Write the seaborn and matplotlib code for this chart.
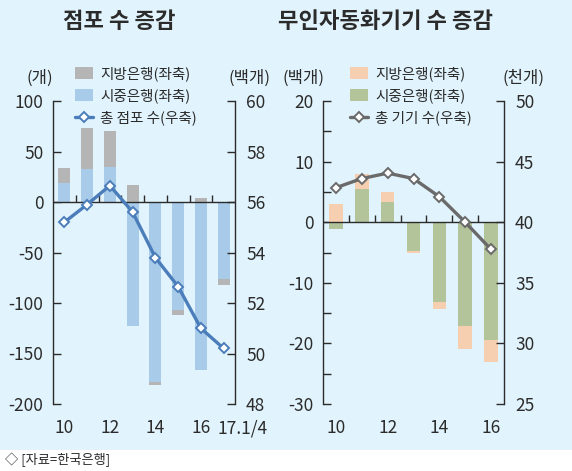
import numpy as np
import matplotlib.pyplot as plt
import seaborn as sns
from matplotlib.patches import Patch, Rectangle
from matplotlib.lines import Line2D
import matplotlib.transforms as mtransforms

# 점포 수 증감: 막대(개, 좌축), 선(백개, 우축)
branch_years = ['10', '11', '12', '13', '14', '15', '16', '17.1/4']
branch_ticks = ['10', '', '12', '', '14', '', '16', '17.1/4']
branch_city = [19, 33, 35, -123, -178, -107, -166, -76]
branch_local = [15, 40, 35, 17, -3, -5, 4, -6]
branch_total = [55.2, 55.9, 56.65, 55.6, 53.8, 52.65, 51.0, 50.2]

# 무인자동화기기 수 증감: 막대(백개, 좌축), 선(천개, 우축)
atm_years = ['10', '11', '12', '13', '14', '15', '16']
atm_ticks = ['10', '', '12', '', '14', '', '16']
atm_city = [-1.1, 5.4, 3.35, -4.8, -13.1, -17.1, -19.5]
atm_local = [3.0, 2.5, 1.7, -0.3, -1.3, -3.8, -3.6]
atm_total = [42.85, 43.6, 44.05, 43.6, 42.1, 40.0, 37.75]

sns.set_theme(style='ticks')
plt.rcParams['font.family'] = ['Noto Sans CJK KR', 'DejaVu Sans']
plt.rcParams['axes.unicode_minus'] = False

BG = '#e1f3fc'
DARK = '#2b2b2b'
W, H = 572, 471

fig = plt.figure(figsize=(W / 100, H / 100), dpi=100)
fig.patch.set_facecolor('white')
fig.patches.append(Rectangle((0, 21 / H), 1, 1 - 21 / H, transform=fig.transFigure,
                             facecolor=BG, edgecolor='none', zorder=-10))


def panel(x0, x1, cats, ticks, city, local, total, c_city, c_local, c_line,
          ylim, yticks, yminor, y2lim, y2ticks, labels, legend_xy):
    ax = fig.add_axes([x0 / W, 1 - 404 / H, (x1 - x0) / W, 303 / H])
    ax.set_facecolor('none')
    city = np.array(city, dtype=float)
    local = np.array(local, dtype=float)
    bottom = np.where(np.sign(city) == np.sign(local), city, 0)
    sns.barplot(x=cats, y=city, color=c_city, width=0.53, errorbar=None,
                linewidth=0, saturation=1, ax=ax)
    sns.barplot(x=cats, y=local, bottom=bottom, color=c_local, width=0.53,
                errorbar=None, linewidth=0, saturation=1, ax=ax)
    ax.set_ylim(*ylim)
    ax.set_xlim(-0.5, len(cats) - 0.5)
    ax.set_yticks(yticks)
    ax.set_yticks(yminor, minor=True)
    ax.set_xticks(range(len(cats)))
    ax.set_xticklabels(ticks)
    ax.axhline(0, color=DARK, lw=1, zorder=3)
    tick_len = (ylim[1] - ylim[0]) * 7 / 303
    ax.vlines(np.arange(len(cats) - 1) + 0.5, 0, tick_len, color=DARK, lw=1, zorder=3)
    ax.set_xlabel('')
    ax.set_ylabel('')

    ax2 = ax.twinx()
    sns.lineplot(x=np.arange(len(cats)), y=total, color=c_line, lw=2.4, marker='D',
                 markersize=5.3, markerfacecolor='white', markeredgecolor=c_line,
                 markeredgewidth=1.4, ax=ax2, zorder=5)
    ax2.set_ylim(*y2lim)
    ax2.set_yticks(y2ticks)
    ax2.set_xlim(-0.5, len(cats) - 0.5)

    for a in (ax, ax2):
        for s in ('top', 'bottom'):
            a.spines[s].set_visible(False)
        for s in ('left', 'right'):
            a.spines[s].set_color(DARK)
            a.spines[s].set_linewidth(1)
    ax.spines['right'].set_visible(False)
    ax2.spines['left'].set_visible(False)
    ax.tick_params(axis='y', which='both', direction='in', length=6, width=1,
                   color=DARK, pad=7, labelsize=12.5, labelcolor=DARK)
    ax.tick_params(axis='x', length=0, pad=11, labelsize=12.5, labelcolor=DARK)
    ax2.tick_params(axis='y', direction='in', length=6, width=1, color=DARK,
                    pad=8, labelsize=12.5, labelcolor=DARK)

    handles = [Patch(facecolor=c_local, edgecolor='none'),
               Patch(facecolor=c_city, edgecolor='none'),
               Line2D([], [], color=c_line, lw=2.4, marker='D', markersize=5.3,
                      markerfacecolor='white', markeredgecolor=c_line,
                      markeredgewidth=1.4)]
    fig.legend(handles, labels, loc='upper left',
               bbox_to_anchor=(legend_xy[0] / W, 1 - legend_xy[1] / H),
               frameon=False, fontsize=10.5, labelspacing=0.5, borderpad=0,
               handlelength=1.2, handleheight=0.9, handletextpad=0.5,
               labelcolor=DARK)
    return ax, ax2


ax, ax2 = panel(53, 235, branch_years, branch_ticks, branch_city, branch_local,
                branch_total, '#a8cbea', '#b5b5b5', '#4a7dba',
                (-200, 100), range(-200, 101, 50), [], (48, 60), range(48, 61, 2),
                ['지방은행(좌축)', '시중은행(좌축)', '총 점포 수(우축)'], (68, 59))
last = ax.get_xticklabels()[-1]
last.set_horizontalalignment('left')
last.set_transform(last.get_transform() + mtransforms.ScaledTranslation(-6 / 100, 0, fig.dpi_scale_trans))

panel(323, 504, atm_years, atm_ticks, atm_city, atm_local, atm_total,
      '#b3c39a', '#f6cfb1', '#6a6a6a',
      (-30, 20), range(-30, 21, 10), range(-25, 20, 10), (25, 50), range(25, 51, 5),
      ['지방은행(좌축)', '시중은행(좌축)', '총 기기 수(우축)'], (343, 59))

fig.text(119 / W, 1 - 22 / H, '점포 수 증감', ha='center', va='center',
         fontsize=16, fontweight='bold', color=DARK)
fig.text(385 / W, 1 - 22 / H, '무인자동화기기 수 증감', ha='center', va='center',
         fontsize=16, fontweight='bold', color=DARK)
for x, t in [(40, '(개)'), (249, '(백개)'), (303, '(백개)'), (523, '(천개)')]:
    fig.text(x / W, 1 - 78 / H, t, ha='center', va='center', fontsize=12, color=DARK)
fig.text(5 / W, 1 - 460 / H, '◇ [자료=한국은행]', ha='left', va='center',
         fontsize=9.5, color=DARK)

fig.savefig('out.png', dpi=100)
